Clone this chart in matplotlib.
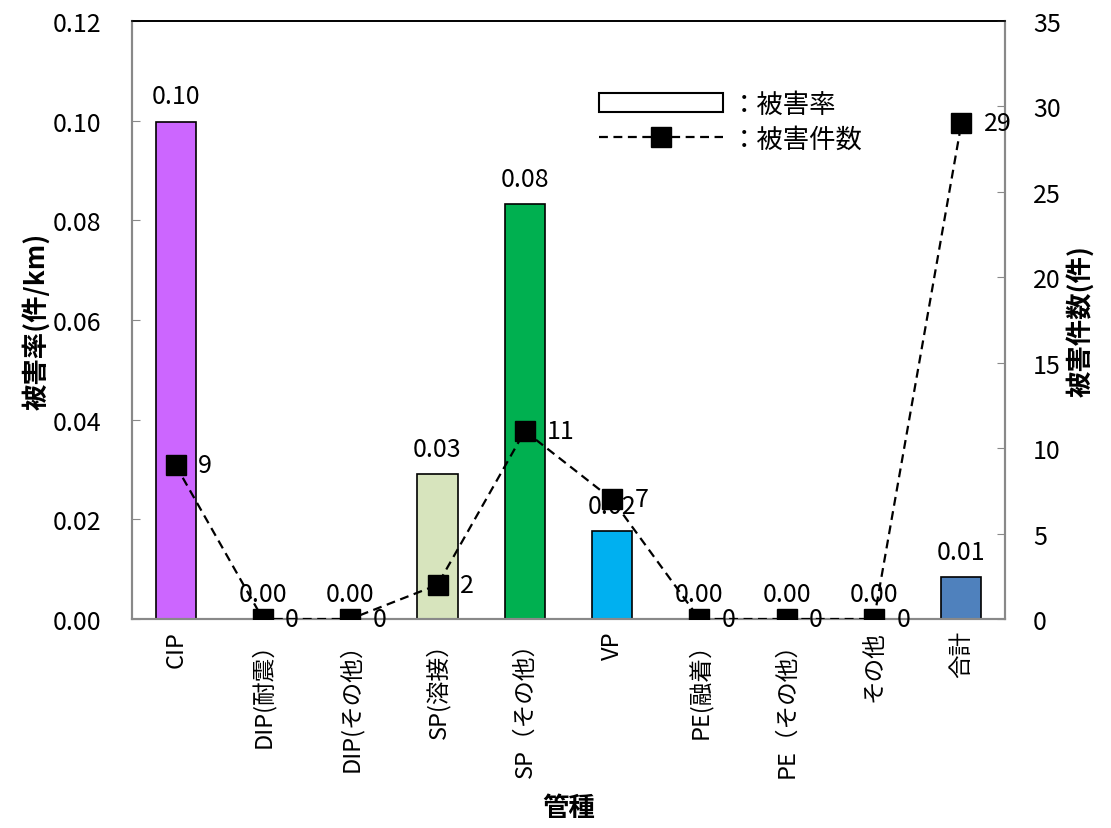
import matplotlib
matplotlib.use("Agg")
import matplotlib.pyplot as plt
from matplotlib.patches import Patch
from matplotlib.lines import Line2D

plt.rcParams['font.family'] = ['Noto Sans CJK JP', 'DejaVu Sans']

categories = ['CIP', 'DIP(耐震）', 'DIP(その他）', 'SP(溶接）', 'SP（その他）',
              'VP', 'PE(融着）', 'PE（その他）', 'その他', '合計']
rate = [0.0998, 0.0, 0.0, 0.029, 0.0832, 0.0176, 0.0, 0.0, 0.0, 0.0084]
counts = [9, 0, 0, 2, 11, 7, 0, 0, 0, 29]
bar_colors = ['#CC66FF', '#FFFFFF', '#FFFFFF', '#D7E4BD', '#00B050',
              '#00B0F0', '#FFFFFF', '#FFFFFF', '#FFFFFF', '#4F81BD']

gray = '#898989'

fig = plt.figure(figsize=(11.11, 8.29), dpi=100)
ax = fig.add_axes([0.1188, 0.2521, 0.7858, 0.7214])
ax2 = ax.twinx()

x = list(range(len(categories)))
ax.bar(x, rate, width=0.46, color=bar_colors, edgecolor='black', linewidth=1.2, zorder=2)
for xi, v in zip(x, rate):
    ax.annotate('%.2f' % v, (xi, v), xytext=(0, 9), textcoords='offset points',
                ha='center', va='bottom', fontsize=18)

ax2.plot(x, counts, linestyle='--', color='black', linewidth=1.6, dashes=(4, 2.5),
         marker='s', markersize=14, markerfacecolor='black', markeredgecolor='black', zorder=3)
for xi, c in zip(x, counts):
    ax2.annotate(str(c), (xi, c), xytext=(16, 0), textcoords='offset points',
                 ha='left', va='center', fontsize=18)

ax.set_xlim(-0.5, len(categories) - 0.5)
ax.set_ylim(0, 0.12)
ax2.set_ylim(0, 35)
ax.set_yticks([0, 0.02, 0.04, 0.06, 0.08, 0.10, 0.12])
ax.set_yticklabels(['%.2f' % t for t in ax.get_yticks()])
ax2.set_yticks(range(0, 36, 5))

ax.set_xticks(x)
ax.set_xticklabels(categories, rotation=90, fontsize=17, va='top')
ax.tick_params(axis='x', length=0, pad=8)
ax.tick_params(axis='y', direction='in', length=6, color=gray, labelsize=18, pad=22)
ax2.tick_params(axis='y', direction='in', length=6, color=gray, labelsize=18, pad=20)

for a in (ax, ax2):
    for side in ('left', 'right', 'bottom'):
        a.spines[side].set_color(gray)
        a.spines[side].set_linewidth(1.5)
    a.spines['top'].set_color('black')
    a.spines['top'].set_linewidth(1.2)

ax.set_ylabel('被害率(件/km)', fontsize=19, fontweight='bold', labelpad=2)
ax2.set_ylabel('被害件数(件)', fontsize=19, fontweight='bold', labelpad=4)
ax.set_xlabel('管種', fontsize=19, fontweight='bold')
ax.xaxis.set_label_coords(0.5, -0.292)

handles = [Patch(facecolor='white', edgecolor='black', linewidth=1.5),
           Line2D([], [], linestyle='--', color='black', linewidth=1.6, dashes=(4, 2.5),
                  marker='s', markersize=14, markerfacecolor='black')]
ax2.legend(handles, ['：被害率', '：被害件数'], loc='upper left',
           bbox_to_anchor=(0.508, 0.923), frameon=False, fontsize=19,
           handlelength=4.7, handletextpad=0.3, labelspacing=0.3)

fig.savefig('out.png', dpi=100)
